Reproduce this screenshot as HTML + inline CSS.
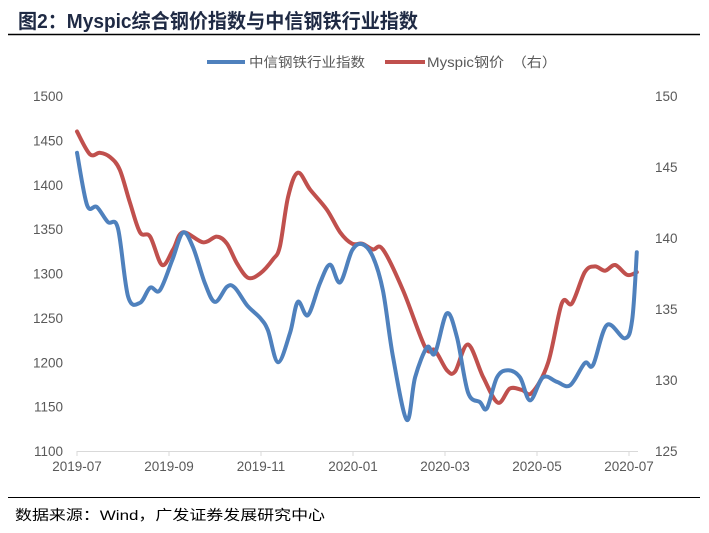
<!DOCTYPE html>
<html><head><meta charset="utf-8"><style>
html,body{margin:0;padding:0;background:#fff;}
svg{display:block;font-family:"Liberation Sans","Noto Sans CJK SC",sans-serif;}
</style></head><body>
<svg id="chart" width="709" height="533" viewBox="0 0 709 533">
<text x="18" y="28" font-size="20" font-weight="bold" fill="#1f2a44" textLength="400" lengthAdjust="spacingAndGlyphs">图2：Myspic综合钢价指数与中信钢铁行业指数</text>
<line x1="8" y1="34.5" x2="700" y2="34.5" stroke="#000" stroke-width="1.5"/>
<g>
<line x1="207" y1="62" x2="245" y2="62" stroke="#4f81bd" stroke-width="4"/>
<text x="249" y="67" font-size="13.5" fill="#595959" textLength="116" lengthAdjust="spacingAndGlyphs">中信钢铁行业指数</text>
<line x1="385" y1="62" x2="425" y2="62" stroke="#c0504d" stroke-width="4"/>
<text x="427" y="67" font-size="13.5" fill="#595959" textLength="130" lengthAdjust="spacingAndGlyphs">Myspic钢价　（右）</text>
</g>
<g id="axes"></g>
<g id="series"></g>
<line x1="8" y1="497.5" x2="700" y2="497.5" stroke="#000" stroke-width="1"/>
<text x="15" y="520" font-size="14" fill="#000" textLength="310" lengthAdjust="spacingAndGlyphs">数据来源：Wind，广发证券发展研究中心</text>
</svg>
<script>
const xTickLabels = ["2019-07","2019-09","2019-11","2020-01","2020-03","2020-05","2020-07"];
const leftTicks = [1100,1150,1200,1250,1300,1350,1400,1450,1500];
const rightTicks = [125,130,135,140,145,150];
const citicMonths = [0,0.22,0.43,0.67,0.89,1.11,1.37,1.59,1.8,2.07,2.3,2.52,2.78,3.0,3.26,3.43,3.7,3.98,4.15,4.37,4.63,4.8,5.02,5.28,5.5,5.72,5.98,6.2,6.43,6.65,6.87,7.17,7.35,7.61,7.78,8.04,8.26,8.5,8.76,8.91,9.13,9.37,9.63,9.85,10.13,10.43,10.72,11.04,11.22,11.52,11.91,12.07,12.17];
const citicValues = [1436,1377,1375,1358,1351,1274,1267,1284,1281,1315,1346,1330,1289,1268,1285,1284,1264,1250,1236,1200,1233,1268,1253,1289,1310,1290,1326,1333,1319,1281,1206,1135,1183,1217,1210,1255,1228,1166,1155,1148,1183,1191,1183,1157,1183,1178,1174,1199,1197,1242,1227,1248,1324];
const myspicMonths = [0,0.28,0.5,0.72,0.93,1.15,1.37,1.59,1.85,2.09,2.3,2.74,3.04,3.26,3.48,3.72,3.98,4.26,4.41,4.59,4.8,5.07,5.43,5.72,5.98,6.2,6.43,6.65,7.09,7.57,7.78,8.04,8.22,8.5,8.83,9.15,9.41,9.67,9.89,10.24,10.54,10.76,11.04,11.26,11.48,11.7,11.96,12.17];
const myspicValues = [147.5,145.9,146.0,145.7,144.8,142.5,140.4,140.1,138.1,139.2,140.4,139.7,140.1,139.6,138.2,137.2,137.5,138.5,139.4,142.9,144.6,143.4,142.0,140.4,139.6,139.6,139.2,139.2,136.3,132.3,132.1,130.7,130.6,132.5,130.2,128.4,129.4,129.3,129.1,131.2,135.4,135.4,137.6,138.0,137.7,138.1,137.4,137.6];

const NS="http://www.w3.org/2000/svg";
const X0=77, XW=46, YT=96, YB=451;
const xs = m => X0 + m*XW;
const yL = v => YB - (v-1100)/(1500-1100)*(YB-YT);
const yR = v => YB - (v-125)/(150-125)*(YB-YT);
function mk(tag, attrs, parent){const e=document.createElementNS(NS,tag);for(const k in attrs)e.setAttribute(k,attrs[k]);parent.appendChild(e);return e;}
const axes=document.getElementById('axes'), series=document.getElementById('series');
const ax=mk('line',{x1:X0,y1:YB+0.5,x2:638,y2:YB+0.5,stroke:'#d9d9d9','stroke-width':1},axes);


for(let i=0;i<xTickLabels.length;i++){
  const x=xs(i*2);
  const t=mk('line',{x1:x,y1:YB,x2:x,y2:YB+5,stroke:'#d9d9d9','stroke-width':1},axes);
  
  
  const l=mk('text',{x:x,y:YB+20,'font-size':13.5,fill:'#595959','text-anchor':'middle'},axes);
  l.textContent=xTickLabels[i];
  
  
}
leftTicks.forEach(v=>{
  const l=mk('text',{x:63,y:yL(v)+5,'font-size':13.5,fill:'#595959','text-anchor':'end'},axes);
  l.textContent=v;
  
  
});
rightTicks.forEach(v=>{
  const l=mk('text',{x:655,y:yR(v)+5,'font-size':13.5,fill:'#595959'},axes);
  l.textContent=v;
  
  
});
function smooth(pts){
  let d=`M${pts[0][0]},${pts[0][1]}`;
  for(let i=0;i<pts.length-1;i++){
    const p0=pts[Math.max(0,i-1)],p1=pts[i],p2=pts[i+1],p3=pts[Math.min(pts.length-1,i+2)];
    const c1=[p1[0]+(p2[0]-p0[0])/6,p1[1]+(p2[1]-p0[1])/6];
    const c2=[p2[0]-(p3[0]-p1[0])/6,p2[1]-(p3[1]-p1[1])/6];
    d+=` C${c1[0].toFixed(1)},${c1[1].toFixed(1)} ${c2[0].toFixed(1)},${c2[1].toFixed(1)} ${p2[0].toFixed(1)},${p2[1].toFixed(1)}`;
  }
  return d;
}
const redPts=myspicMonths.map((m,i)=>[xs(m),yR(myspicValues[i])]);
const bluePts=citicMonths.map((m,i)=>[xs(m),yL(citicValues[i])]);
const red=mk('path',{d:smooth(redPts),fill:'none',stroke:'#c0504d','stroke-width':4,'stroke-linejoin':'round','stroke-linecap':'round'},series);


const blue=mk('path',{d:smooth(bluePts),fill:'none',stroke:'#4f81bd','stroke-width':4,'stroke-linejoin':'round','stroke-linecap':'round'},series);


</script>
</body></html>
